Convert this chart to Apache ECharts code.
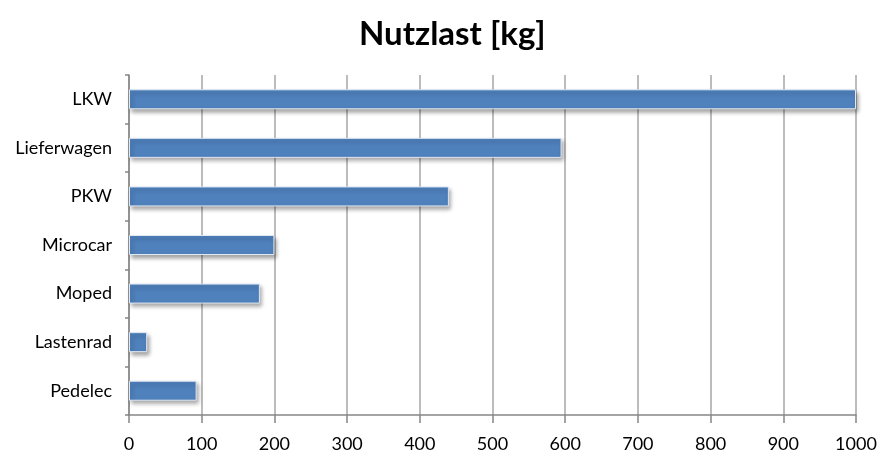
<!DOCTYPE html>
<html>
<head>
<meta charset="utf-8">
<script src="https://cdn.jsdelivr.net/npm/echarts@6/dist/echarts.min.js"></script>
<style>
  html, body { margin: 0; padding: 0; background: #fff; }
  #chart { width: 880px; height: 455px; }
</style>
</head>
<body>
<div id="chart"></div>
<script>
// Payload per vehicle type, top to bottom
const categories = ['LKW', 'Lieferwagen', 'PKW', 'Microcar', 'Moped', 'Lastenrad', 'Pedelec'];
const payloadKg = [1000, 595, 440, 200, 180, 25, 93];
const valueTicks = [0, 100, 200, 300, 400, 500, 600, 700, 800, 900, 1000];

const labelFont = 'Lato, Open Sans, sans-serif';

const chart = echarts.init(document.getElementById('chart'), null, { renderer: 'canvas' });
chart.setOption({
  animation: false,
  title: {
    text: 'Nutzlast [kg]',
    left: 354,
    top: 13,
    textStyle: { fontFamily: labelFont, fontSize: 33, fontWeight: 'bold', color: '#000' }
  },
  grid: { left: 129, right: 24, top: 75, bottom: 40, containLabel: false },
  xAxis: {
    type: 'value',
    min: valueTicks[0],
    max: valueTicks[valueTicks.length - 1],
    interval: valueTicks[1] - valueTicks[0],
    axisLine: { show: true, lineStyle: { color: '#868686', width: 1.5 } },
    axisTick: { show: true, length: 8, lineStyle: { color: '#868686', width: 1.5 } },
    axisLabel: {
      margin: 20,
      fontFamily: labelFont,
      fontSize: 18,
      color: '#000',
      formatter: v => String(v)
    },
    splitLine: { show: true, lineStyle: { color: '#a6a6a6', width: 1.5 } }
  },
  yAxis: {
    type: 'category',
    data: categories,
    inverse: true,
    axisLine: { show: true, lineStyle: { color: '#868686', width: 1.5 } },
    axisTick: { show: true, length: 4, lineStyle: { color: '#868686', width: 1.5 } },
    axisLabel: { margin: 17, fontFamily: labelFont, fontSize: 18, color: '#000' },
    splitLine: { show: false }
  },
  series: [{
    type: 'bar',
    data: payloadKg,
    barWidth: 20,
    itemStyle: {
      color: '#4f81bd',
      borderColor: '#dfe8f3',
      borderWidth: 1,
      shadowColor: 'rgba(0,0,0,0.35)',
      shadowBlur: 4,
      shadowOffsetX: 2,
      shadowOffsetY: 3
    }
  }]
});
</script>
</body>
</html>
